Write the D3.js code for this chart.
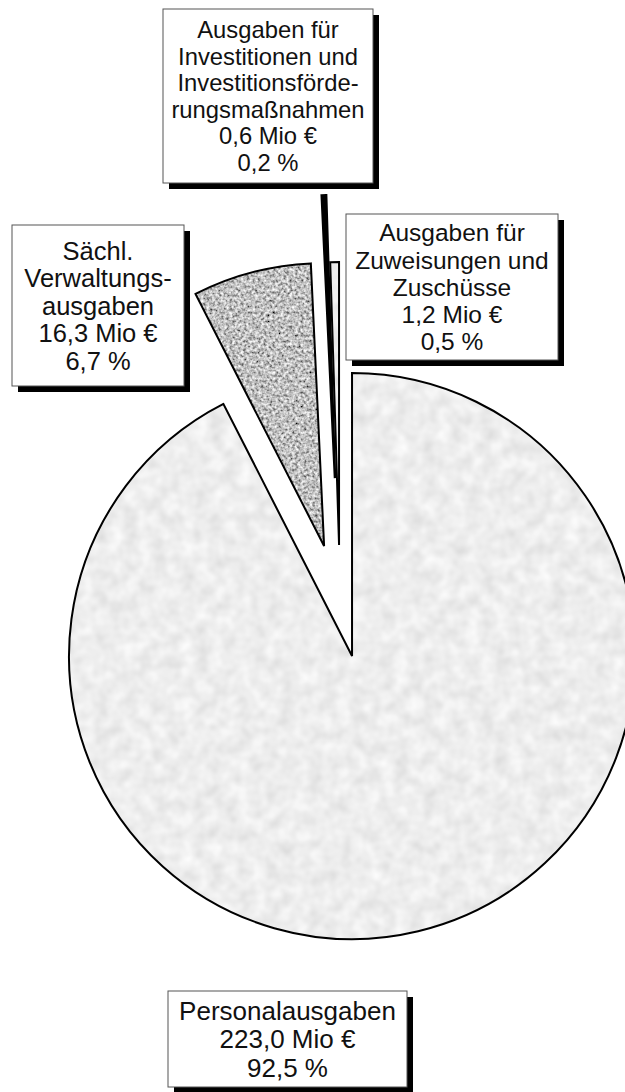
<!DOCTYPE html>
<html lang="de">
<head>
  <meta charset="utf-8"/>
  <title>Ausgaben Kreisdiagramm</title>
  <script src="https://cdnjs.cloudflare.com/ajax/libs/d3/7.8.5/d3.min.js"></script>
  <style>
    html, body { margin: 0; padding: 0; background: #fff; }
    svg { display: block; }
    text { font-family: "Liberation Sans", Arial, sans-serif; fill: #111; }
  </style>
</head>
<body>
<svg id="chart" width="625" height="1092"></svg>
<script>
  // data
  var categories = [
    ["Personalausgaben"],
    ["Sächl.", "Verwaltungs-", "ausgaben"],
    ["Ausgaben für", "Investitionen und", "Investitionsförde-", "rungsmaßnahmen"],
    ["Ausgaben für", "Zuweisungen und", "Zuschüsse"]
  ];
  var amounts = [223.0, 16.3, 0.6, 1.2];      // Mio €
  var percents = [92.5, 6.7, 0.2, 0.5];       // %

  // layout
  var cx = 340, cy = 606, radius = 283;
  var explode = [51.5, 62, 128, 61];
  var boxes = [
    {x: 168, y: 991, w: 239, h: 96, lh: 28.5, fs: 26},
    {x: 12, y: 225, w: 172, h: 161, lh: 27.5, fs: 25.5},
    {x: 163, y: 9, w: 210, h: 174, lh: 26.6, fs: 23.8},
    {x: 346, y: 214, w: 212, h: 146, lh: 27.3, fs: 24.5}
  ];
  var shadow = 6;

  var fmt = function(v) { return v.toFixed(1).replace(".", ","); };

  var svg = d3.select("#chart");
  var defs = svg.append("defs");

  // grey noise fill, clipped to the slice shape
  function texture(id, freq, base, k, seed, oct) {
    var f = defs.append("filter").attr("id", id)
      .attr("x", "-5%").attr("y", "-5%").attr("width", "110%").attr("height", "110%");
    f.append("feTurbulence").attr("type", "fractalNoise")
      .attr("baseFrequency", freq).attr("numOctaves", oct).attr("seed", seed).attr("result", "n");
    var off = base - k * 0.5;
    f.append("feColorMatrix").attr("in", "n").attr("type", "matrix").attr("result", "g")
      .attr("values", [k,0,0,0,off, k,0,0,0,off, k,0,0,0,off, 0,0,0,0,1].join(" "));
    f.append("feComposite").attr("in", "g").attr("in2", "SourceGraphic").attr("operator", "in");
  }
  texture("texLight", 0.07, 0.85, 0.3, 4, 2);
  texture("texDark", 0.35, 0.53, 1.5, 7, 2);
  var filters = ["url(#texLight)", "url(#texDark)", null, "url(#texLight)"];

  var pie = d3.pie().sort(null).value(function(d) { return d; });
  var arc = d3.arc().innerRadius(0).outerRadius(radius);
  var arcs = pie(amounts);

  var slices = svg.append("g").selectAll("g")
    .data(arcs)
    .enter()
    .append("g")
    .attr("transform", function(d, i) {
      var mid = (d.startAngle + d.endAngle) / 2;
      var x = cx + explode[i] * Math.sin(mid);
      var y = cy - explode[i] * Math.cos(mid);
      return "translate(" + x + "," + y + ")";
    });

  slices.append("path")
    .attr("d", arc)
    .attr("fill", function(d, i) { return i === 2 ? "#000" : "#ccc"; })
    .attr("filter", function(d, i) { return filters[i]; });

  slices.append("path")
    .attr("d", arc)
    .attr("fill", "none")
    .attr("stroke", "#000")
    .attr("stroke-width", function(d, i) { return i === 2 ? 2.5 : 2; })
    .attr("stroke-linejoin", "miter");

  // labels
  var labels = svg.append("g").selectAll("g")
    .data(arcs)
    .enter()
    .append("g");

  labels.append("rect")
    .attr("x", function(d, i) { return boxes[i].x + shadow; })
    .attr("y", function(d, i) { return boxes[i].y + shadow; })
    .attr("width", function(d, i) { return boxes[i].w; })
    .attr("height", function(d, i) { return boxes[i].h; })
    .attr("fill", "#000");

  labels.append("rect")
    .attr("x", function(d, i) { return boxes[i].x; })
    .attr("y", function(d, i) { return boxes[i].y; })
    .attr("width", function(d, i) { return boxes[i].w; })
    .attr("height", function(d, i) { return boxes[i].h; })
    .attr("fill", "#fff")
    .attr("stroke", "#555")
    .attr("stroke-width", 1);

  labels.each(function(d, i) {
    var b = boxes[i];
    var lines = categories[i].concat([fmt(amounts[i]) + " Mio €", fmt(percents[i]) + " %"]);
    var first = b.y + b.h / 2 - (lines.length - 1) / 2 * b.lh + b.fs * 0.36;
    d3.select(this).selectAll("text")
      .data(lines)
      .enter()
      .append("text")
      .attr("x", b.x + b.w / 2)
      .attr("y", function(t, j) { return first + j * b.lh; })
      .attr("text-anchor", "middle")
      .attr("font-size", b.fs)
      .text(function(t) { return t; });
  });
</script>
</body>
</html>
